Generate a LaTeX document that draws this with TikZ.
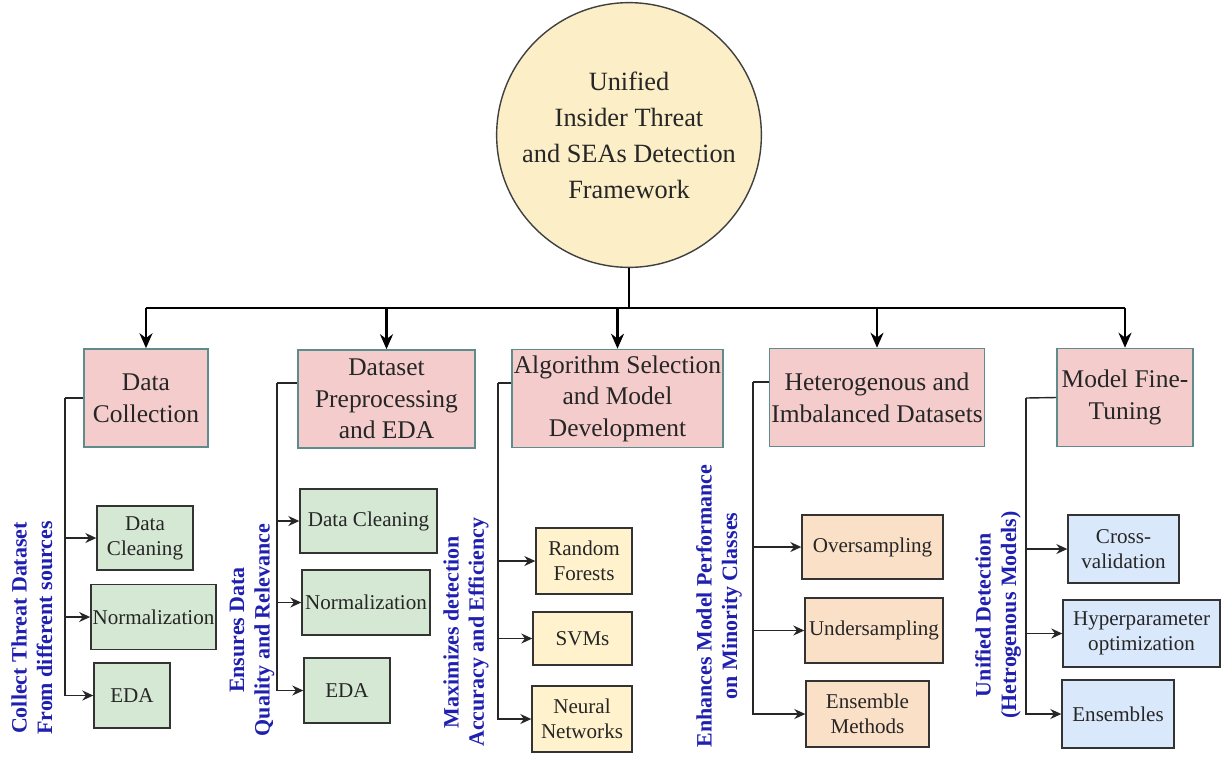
\documentclass[tikz,border=0pt]{standalone}
\usepackage{fontspec}
\setmainfont{Liberation Serif}
\usetikzlibrary{arrows.meta, positioning, calc}
\definecolor{pinkfill}{HTML}{F4CCCC}
\definecolor{pinkline}{HTML}{5E8C8C}
\definecolor{greenfill}{HTML}{D5E8D4}
\definecolor{yellowfill}{HTML}{FFF2CC}
\definecolor{orangefill}{HTML}{FBE0C8}
\definecolor{bluefill}{HTML}{DAE8FC}
\definecolor{circfill}{HTML}{FCEFC7}
\definecolor{labelblue}{HTML}{2020B0}
\definecolor{boxline}{HTML}{333333}

\begin{document}
\begin{tikzpicture}[x=0.02cm, y=-0.02cm,
  mainbox/.style={draw=pinkline, fill=pinkfill, line width=0.9pt, align=center, inner sep=1pt, text=black!85, font=\fontsize{14.5}{18}\selectfont},
  subbox/.style={draw=boxline, line width=0.8pt, align=center, inner sep=1pt, text=black!85, font=\fontsize{12}{14.2}\selectfont},
  sidelabel/.style={rotate=90, align=center, text=labelblue, font=\bfseries\fontsize{12.5}{14.5}\selectfont},
  trunk/.style={line width=1.4pt, black},
  bigarrow/.style={trunk, -{Stealth[length=3mm, width=2.6mm]}},
  branch/.style={line width=0.8pt, black!85},
  smallarrow/.style={branch, -{Stealth[length=2.2mm, width=2mm]}}]

\fill[white] (0,0) rectangle (1222,765);
\useasboundingbox (0,0) rectangle (1222,765);

% Central framework
\node[circle, draw=black!75, fill=circfill, line width=0.8pt, minimum size=5.2cm, align=center, text=black!85,
  font=\fontsize{15}{20.5}\selectfont] (root) at (629,135) {Unified\\Insider Threat\\and SEAs Detection\\Framework};

% Main stages
\node[mainbox, minimum width=2.48cm, minimum height=1.96cm] (c1) at (146,398) {Data\\Collection};
\node[mainbox, minimum width=3.54cm, minimum height=1.96cm] (c2) at (386.5,399) {Dataset\\Preprocessing\\and EDA};
\node[mainbox, minimum width=3.78cm, minimum height=1.96cm] (c3) at (617.5,398.5) {Algorithm Selection\\and Model\\Development};
\node[mainbox, minimum width=3.92cm, minimum height=1.96cm] (c4) at (877,397.5) {Heterogenous and\\Imbalanced Datasets};
\node[mainbox, minimum width=2.72cm, minimum height=1.96cm] (c5) at (1125,397.5) {Model Fine-\\Tuning};

% Tree from the framework to the stages
\coordinate (bar) at (629,308);
\draw[trunk] (root.south) -- (bar);
\draw[trunk] (bar -| c1.north) -- (bar -| c5.north);
\foreach \c in {c1,c2,c3,c4,c5}
  \draw[bigarrow] (bar -| \c.north) -- (\c.north);

% Stage 1 steps
\node[subbox, fill=greenfill, minimum width=1.92cm, minimum height=1.28cm] (d1a) at (145,538) {Data\\Cleaning};
\node[subbox, fill=greenfill, minimum width=2.38cm, minimum height=1.3cm] (d1b) at (153.5,617) {Normalization};
\node[subbox, fill=greenfill, minimum width=1.52cm, minimum height=1.3cm] (d1c) at (132,695.5) {EDA};

% Stage 2 steps
\node[subbox, fill=greenfill, minimum width=2.74cm, minimum height=1.28cm] (d2a) at (368.5,521) {Data Cleaning};
\node[subbox, fill=greenfill, minimum width=2.56cm, minimum height=1.3cm] (d2b) at (366,602.5) {Normalization};
\node[subbox, fill=greenfill, minimum width=1.72cm, minimum height=1.3cm] (d2c) at (347,690.5) {EDA};

% Stage 3 steps
\node[subbox, fill=yellowfill, minimum width=1.92cm, minimum height=1.32cm] (d3a) at (584,561) {Random\\Forests};
\node[subbox, fill=yellowfill, minimum width=1.98cm, minimum height=1.06cm] (d3b) at (582.5,638.5) {SVMs};
\node[subbox, fill=yellowfill, minimum width=2.0cm, minimum height=1.32cm] (d3c) at (582,719) {Neural\\Networks};

% Stage 4 steps
\node[subbox, fill=orangefill, minimum width=2.82cm, minimum height=1.28cm] (d4a) at (872.5,547) {Oversampling};
\node[subbox, fill=orangefill, minimum width=2.76cm, minimum height=1.3cm] (d4b) at (874,630.5) {Undersampling};
\node[subbox, fill=orangefill, minimum width=2.46cm, minimum height=1.32cm] (d4c) at (867.5,714) {Ensemble\\Methods};

% Stage 5 steps
\node[subbox, fill=bluefill, minimum width=2.22cm, minimum height=1.36cm] (d5a) at (1123.5,549) {Cross-\\validation};
\node[subbox, fill=bluefill, minimum width=3.14cm, minimum height=1.34cm] (d5b) at (1141.5,633.5) {Hyperparameter\\optimization};
\node[subbox, fill=bluefill, minimum width=2.24cm, minimum height=1.36cm] (d5c) at (1118,714) {Ensembles};

% Spines down the left of each stage
\coordinate (k1) at (65,398);
\coordinate (k2) at (277,383);
\coordinate (k3) at (498,383);
\coordinate (k4) at (753,382);
\coordinate (k5) at (1026,398);
\draw[branch] (c1.west) -- (k1);
\draw[branch] (c2.west |- k2) -- (k2);
\draw[branch] (c3.west |- k3) -- (k3);
\draw[branch] (c4.west |- k4) -- (k4);
\draw[branch] (c5.west) -- (k5);
\foreach \k in {1,...,5} {
  \draw[smallarrow] (k\k) |- (d\k c.west);
  \draw[smallarrow] (k\k |- d\k a.west) -- (d\k a.west);
  \draw[smallarrow] (k\k |- d\k b.west) -- (d\k b.west);
}

% Side notes
\node[sidelabel] (l1) at (32,628) {Collect Threat Dataset\\From different sources};
\node[sidelabel] (l2) at (252,630) {Ensures Data\\Quality and Relevance};
\node[sidelabel] (l3) at (466,632) {Maximizes detection\\Accuracy and Efficiency};
\node[sidelabel] (l4) at (719,606) {Enhances Model Performance\\on Minority Classes};
\node[sidelabel] (l5) at (998,615) {Unified Detection\\(Hetrogenous Models)};
\end{tikzpicture}
\end{document}
